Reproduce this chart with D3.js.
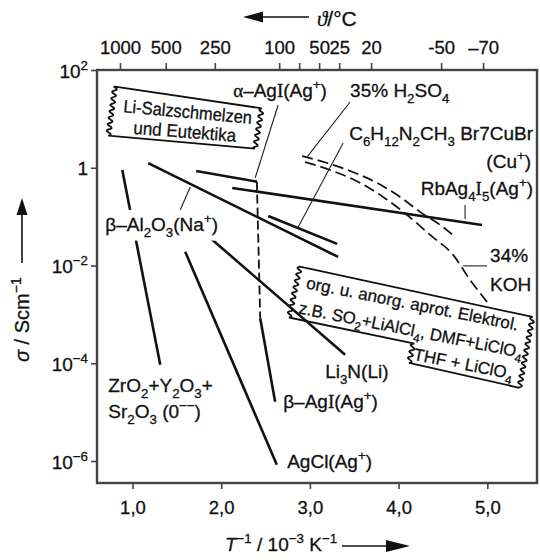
<!DOCTYPE html>
<html>
<head>
<meta charset="utf-8">
<script src="https://cdn.jsdelivr.net/npm/d3@7/dist/d3.min.js"></script>
<style>
  body { margin: 0; background: #fff; }
  svg text { font-family: "Liberation Sans", Arial, sans-serif; fill: #111; stroke: #111; stroke-width: 0.3px; white-space: pre; }
</style>
</head>
<body>
<div id="chart"></div>
<script>
// sigma / S cm^-1 over T^-1 / 10^-3 K^-1
var zrO2      = [[0.885, 0.902], [1.313, 9.27e-5]];
var betaAl2O3 = [[1.177, 1.24], [3.318, 0.0150]];
var agCl      = [[1.594, 0.0192], [2.627, 8.36e-7]];
var li3N      = [[1.876, 0.0366], [3.397, 1.49e-4]];
var alphaAgI  = [[1.718, 0.861], [2.402, 0.520]];
var betaAgI   = [[2.440, 8.36e-4], [2.608, 1.63e-5]];
var rbAg4I5   = [[2.124, 0.386], [4.941, 0.0676]];
var cuBr      = [[2.530, 0.103], [3.307, 0.0277]];

var h2so4 = [[2.913, 1.74], [3.194, 1.25], [3.453, 0.861], [3.758, 0.489],
             [4.017, 0.253], [4.242, 0.125], [4.468, 0.0676], [4.637, 0.0385]];
var koh   = [[2.946, 1.31], [3.228, 0.902], [3.566, 0.489], [3.825, 0.253], [4.096, 0.108],
             [4.355, 0.0423], [4.614, 0.0165], [4.806, 0.00508], [4.997, 0.00180]];

var xTicks = [1, 2, 3, 4, 5];
var yTicks = [1e2, 1, 1e-2, 1e-4, 1e-6];
var topTickPos    = [0.859, 1.375, 1.928, 2.654, 2.879, 3.104, 3.330, 3.690, 4.479, 4.952];
var topTickLabels = ['1000', '500', '250', '100', '', '50', '25', '20', '-50', '–70'];

var solidSeries = [zrO2, betaAl2O3, agCl, li3N, alphaAgI, betaAgI, rbAg4I5, cuBr];
var dashedSeries = [h2so4, koh];

// ---- layout ----
var width = 540, height = 560;
var mLeft = 97, mRight = 537, mTop = 70, mBottom = 483;
var SERIF = '"Liberation Serif","DejaVu Serif",serif';

var x = d3.scaleLinear().domain([0.6, 5.56]).range([mLeft, mRight]);
var y = d3.scaleLog().domain([Math.pow(10, -6.45), 100]).range([mBottom, mTop]);
function px(d) { return [x(d[0]), y(Math.pow(10, d[1]))]; }

var svg = d3.select('#chart').append('svg')
  .attr('width', width).attr('height', height);

// text with _sub ^sup ~italic and serif I / greek
function rich(sel, str, fs) {
  sel.text(null);
  var re = /([_^~])(\{[^}]*\}|.)|([Iαϑ])|([^_^~Iαϑ]+)/g, m, prev = 0;
  while ((m = re.exec(str)) !== null) {
    var t, off = 0, size = fs, serif = false, ital = false;
    if (m[1] === '~') { t = m[2].replace(/[{}]/g, ''); ital = true; }
    else if (m[1]) {
      t = m[2].replace(/[{}]/g, '');
      off = m[1] === '_' ? 0.3 * fs : -0.42 * fs;
      size = 0.7 * fs;
    }
    else if (m[3]) { t = m[3]; serif = true; ital = t === 'ϑ'; }
    else t = m[4];
    var ts = sel.append('tspan').attr('font-size', size).text(t);
    if (off - prev) ts.attr('dy', off - prev);
    if (serif) ts.attr('font-family', SERIF);
    if (ital) ts.attr('font-style', 'italic');
    prev = off;
  }
}

// axes
var xAxis = svg.append('g').attr('class', 'xAxis')
  .attr('transform', 'translate(0,' + mBottom + ')')
  .call(d3.axisBottom(x).tickValues(xTicks).tickSize(6).tickPadding(12)
    .tickFormat(function (d) { return d3.format('.1f')(d).replace('.', ','); }));
var topAxis = svg.append('g').attr('class', 'topAxis')
  .attr('transform', 'translate(0,' + mTop + ')')
  .call(d3.axisTop(x).tickValues(topTickPos).tickSize(7).tickPadding(9)
    .tickFormat(function (d) { return topTickLabels[topTickPos.indexOf(d)]; }));
var yAxis = svg.append('g').attr('class', 'yAxis')
  .attr('transform', 'translate(' + mLeft + ',0)')
  .call(d3.axisLeft(y).tickValues(yTicks).tickSize(6).tickPadding(3));

[xAxis, topAxis, yAxis].forEach(function (g) {
  g.attr('font-family', null).attr('font-size', null);
  g.select('.domain').remove();
  g.selectAll('.tick line').attr('stroke', '#444').attr('stroke-width', 1.6);
  g.selectAll('.tick text').attr('fill', '#111');
});
xAxis.selectAll('.tick text').attr('font-size', 18.5);
topAxis.selectAll('.tick text').attr('font-size', 18.5);
yAxis.selectAll('.tick text').each(function (d) {
  var e = Math.round(Math.log10(d));
  var s = e === 0 ? '1' : '10^{' + (e < 0 ? '−' : '') + Math.abs(e) + '}';
  rich(d3.select(this), s, 19);
});
yAxis.selectAll('.tick text').attr('dy', null).attr('y', 7);

// frame
svg.append('rect')
  .attr('x', mLeft).attr('y', mTop)
  .attr('width', mRight - mLeft).attr('height', mBottom - mTop)
  .attr('fill', 'none').attr('stroke', '#444').attr('stroke-width', 2.4);

// lines
var line = d3.line().x(function (d) { return x(d[0]); }).y(function (d) { return y(d[1]); });
var curve = d3.line().x(function (d) { return x(d[0]); }).y(function (d) { return y(d[1]); })
  .curve(d3.curveMonotoneX);

svg.append('g').selectAll('path').data(solidSeries).enter().append('path')
  .attr('d', line).attr('fill', 'none').attr('stroke', '#111')
  .attr('stroke-width', 2.6).attr('stroke-linecap', 'butt');

svg.append('g').selectAll('path').data(dashedSeries).enter().append('path')
  .attr('d', curve).attr('fill', 'none').attr('stroke', '#111')
  .attr('stroke-width', 1.7).attr('stroke-dasharray', '11,5');

// alpha -> beta AgI transition
svg.append('path')
  .attr('d', line([alphaAgI[alphaAgI.length - 1], betaAgI[0]]))
  .attr('fill', 'none').attr('stroke', '#111')
  .attr('stroke-width', 1.8).attr('stroke-dasharray', '9,4');

// leader lines (x, log10 sigma)
var leaders = [
  [[2.642, 1.284], [2.383, -0.209]],
  [[3.453, 1.346], [2.969, 0.221]],
  [[3.375, 0.507], [2.868, -1.211]],
  [[4.749, -0.761], [4.749, -1.047]],
  [[4.727, -2.008], [4.997, -2.008]],
  [[1.651, -0.393], [1.538, -0.863]]
];
svg.append('g').selectAll('line').data(leaders).enter().append('line')
  .attr('x1', function (d) { return px(d[0])[0]; })
  .attr('y1', function (d) { return px(d[0])[1]; })
  .attr('x2', function (d) { return px(d[1])[0]; })
  .attr('y2', function (d) { return px(d[1])[1]; })
  .attr('stroke', '#222').attr('stroke-width', 1.1);

// wavy box outlines
function wavy(p0, p1, amp, period) {
  var dx = p1[0] - p0[0], dy = p1[1] - p0[1], len = Math.hypot(dx, dy);
  var nx = -dy / len, ny = dx / len, n = Math.max(2, Math.round(len * 1.5)), pts = [];
  for (var i = 0; i <= n; i++) {
    var t = i / n, s = amp * Math.sin(2 * Math.PI * t * len / period);
    pts.push([p0[0] + dx * t + nx * s, p0[1] + dy * t + ny * s]);
  }
  return pts;
}
function outline(corners, wavyEdges) {
  var pts = [];
  corners.forEach(function (c, i) {
    var n = corners[(i + 1) % corners.length];
    pts = pts.concat(wavyEdges[i] ? wavy(c, n, 2.2, 6.5) : [c, n]);
  });
  return d3.line()(pts) + 'Z';
}

// Li-Salzschmelzen box
var box1 = px([0.803, 1.658]);
var g1 = svg.append('g').attr('transform', 'translate(' + box1 + ')');
g1.append('path')
  .attr('d', outline([[0, 0], [146.7, 21.6], [140, 62], [-6.7, 49]], [false, true, false, true]))
  .attr('fill', 'none').attr('stroke', '#111').attr('stroke-width', 1.8);

// org. box
var box2 = px([2.888, -2.024]);
var g2 = svg.append('g').attr('transform', 'translate(' + box2 + ') rotate(12.2)');
g2.append('path')
  .attr('d', outline([[0, 0], [238, 0], [240, 72], [127, 71], [127, 51], [0, 52]],
    [false, true, false, true, false, true]))
  .attr('fill', 'none').attr('stroke', '#111').attr('stroke-width', 1.8);

function squeezed(g, str, fs, u, v, rot, len) {
  var t = g.append('text').attr('x', 0).attr('y', 0);
  rich(t, str, fs);
  var sx = len / t.node().getComputedTextLength();
  t.attr('transform', 'translate(' + u + ',' + v + ') rotate(' + rot + ') scale(' + sx + ',1)');
}
squeezed(g1, 'Li-Salzschmelzen', 18, 8, 25.5, 5.2, 129);
squeezed(g1, 'und Eutektika', 18, 18, 47, 4.5, 103);
squeezed(g2, 'org. u. anorg. aprot. Elektrol.', 17, 10, 20, -0.9, 216);
squeezed(g2, 'z.B. SO_2+LiAlCl_4, DMF+LiClO_4', 17, 8, 46, -0.9, 228);
squeezed(g2, 'THF + LiClO_4', 17, 130, 67, -0.9, 101);

// labels (x, log10 sigma of the baseline start / end)
var labels = [
  { t: 'α–AgI(Ag^+)', p: [2.135, 1.448], a: 'start' },
  { t: '35% H_2SO_4', p: [3.453, 1.448], a: 'start' },
  { t: 'C_6H_{12}N_2CH_3 Br7CuBr', p: [5.515, 0.569], a: 'end' },
  { t: '(Cu^+)', p: [5.493, -0.004], a: 'end' },
  { t: 'RbAg_4I_5(Ag^+)', p: [5.515, -0.556], a: 'end' },
  { t: '34%', p: [5.031, -1.926], a: 'start' },
  { t: 'KOH', p: [5.031, -2.519], a: 'start' },
  { t: 'Li_3N(Li)', p: [3.172, -4.299], a: 'start' },
  { t: 'β–AgI(Ag^+)', p: [2.699, -4.912], a: 'start' },
  { t: 'AgCl(Ag^+)', p: [2.744, -6.139], a: 'start' },
  { t: 'ZrO_2+Y_2O_3+', p: [0.727, -4.585], a: 'start' },
  { t: 'Sr_2O_3 (0^{−−})', p: [0.727, -5.117], a: 'start' },
  { t: 'β–Al_2O_3(Na^+)', p: [0.693, -1.292], a: 'start', knock: true }
];
var lg = svg.append('g');
labels.forEach(function (l) {
  var p = px(l.p);
  var t = lg.append('text').attr('x', p[0]).attr('y', p[1]).attr('text-anchor', l.a);
  rich(t, l.t, 19);
  if (l.knock) {
    var b = t.node().getBBox();
    lg.insert('rect', function () { return t.node(); })
      .attr('x', b.x - 2).attr('y', b.y - 1)
      .attr('width', b.width + 4).attr('height', b.height + 2)
      .attr('fill', '#fff');
  }
});

// axis titles with arrows
function arrow(x1, y1, x2, y2, hl, hw) {
  var dx = x2 - x1, dy = y2 - y1, len = Math.hypot(dx, dy), ux = dx / len, uy = dy / len;
  var bx = x2 - ux * hl, by = y2 - uy * hl;
  svg.append('line').attr('x1', x1).attr('y1', y1).attr('x2', bx).attr('y2', by)
    .attr('stroke', '#111').attr('stroke-width', 1.6);
  svg.append('path')
    .attr('d', 'M' + x2 + ',' + y2 + 'L' + (bx - uy * hw / 2) + ',' + (by + ux * hw / 2) +
      'L' + (bx + uy * hw / 2) + ',' + (by - ux * hw / 2) + 'Z')
    .attr('fill', '#111');
}

arrow(309, 17, 243, 17, 20, 11);
rich(svg.append('text').attr('x', 317).attr('y', 26), 'ϑ/°C', 21);

arrow(342, 546, 410, 546, 24, 12);
rich(svg.append('text').attr('x', 225).attr('y', 551), '~T^{−1} / 10^{−3} K^{−1}', 19);

arrow(22, 263, 22, 198, 17, 11);
rich(svg.append('text').attr('transform', 'translate(29,362) rotate(-90)'), '~σ / Scm^{−1}', 20);
</script>
</body>
</html>
